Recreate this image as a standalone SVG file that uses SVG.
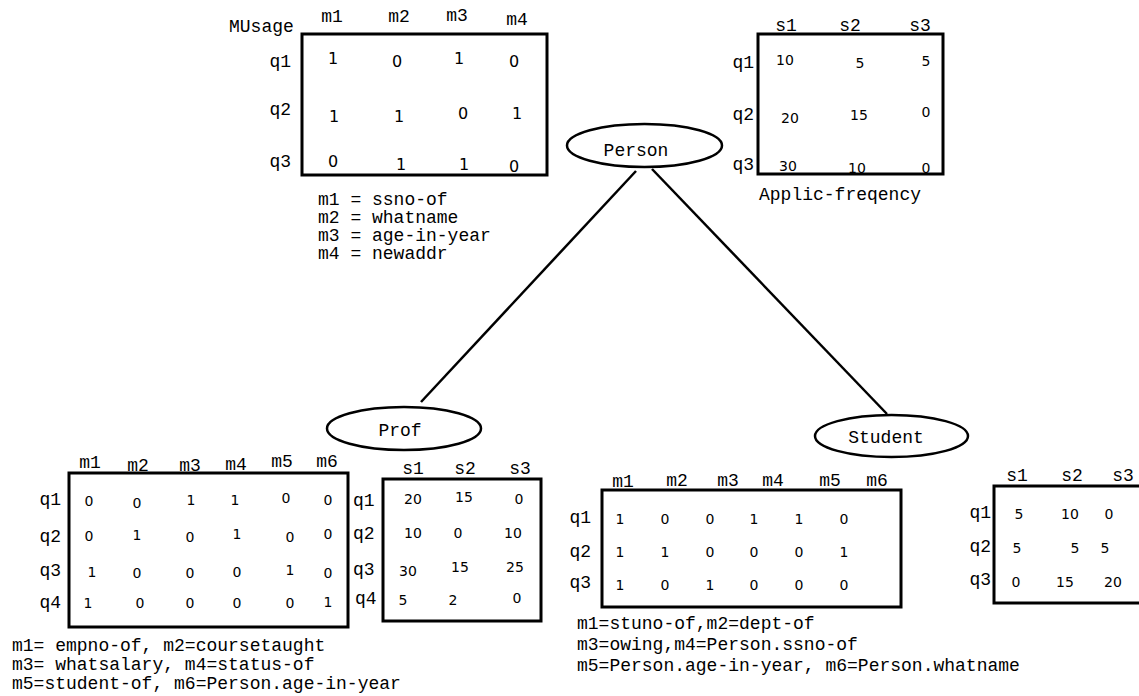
<svg xmlns="http://www.w3.org/2000/svg" width="1139" height="696" viewBox="0 0 1139 696">
<style>
.lbl{font-family:"Liberation Mono","Courier New",monospace;font-size:18px;fill:#000}
.m{text-anchor:middle}
.e{text-anchor:end}
.d{font-family:"DejaVu Sans",Verdana,sans-serif;font-size:14px;fill:#000;text-anchor:middle}
.dl{font-size:16px}
.box{fill:none;stroke:#000;stroke-width:3}
.node{fill:#fff;stroke:#000;stroke-width:2.5}
.edge{stroke:#000;stroke-width:2.5;fill:none}
</style>
<rect width="1139" height="696" fill="#fff"/>
<g id="connectors">
<line class="edge" x1="636" y1="171" x2="421" y2="402"/>
<line class="edge" x1="652" y1="169" x2="887" y2="414"/>
</g>
<g id="person">
<ellipse class="node" cx="644.5" cy="145.5" rx="77.5" ry="21.5"/>
<text class="lbl m" x="636" y="156">Person</text>
</g>
<g id="prof">
<ellipse class="node" cx="404" cy="428.5" rx="77" ry="21.5"/>
<text class="lbl m" x="400" y="436">Prof</text>
</g>
<g id="student">
<ellipse class="node" cx="891.5" cy="436" rx="76.5" ry="21"/>
<text class="lbl m" x="886" y="443">Student</text>
</g>
<g id="musage">
<rect class="box" x="302" y="34" width="245" height="141"/>
<text class="lbl" x="229" y="32">MUsage</text>
<text class="lbl m" x="332" y="22">m1</text>
<text class="lbl m" x="399" y="22">m2</text>
<text class="lbl m" x="457" y="21">m3</text>
<text class="lbl m" x="517" y="25">m4</text>
<text class="lbl e" x="291" y="67">q1</text>
<text class="lbl e" x="291" y="115">q2</text>
<text class="lbl e" x="291" y="167">q3</text>
<text class="d dl" x="333" y="64">1</text>
<text class="d dl" x="397" y="67">0</text>
<text class="d dl" x="459" y="64">1</text>
<text class="d dl" x="514" y="67">0</text>
<text class="d dl" x="334" y="122">1</text>
<text class="d dl" x="399" y="122">1</text>
<text class="d dl" x="463" y="119">0</text>
<text class="d dl" x="517" y="119">1</text>
<text class="d dl" x="333" y="167">0</text>
<text class="d dl" x="401" y="170">1</text>
<text class="d dl" x="464" y="170">1</text>
<text class="d dl" x="514" y="172">0</text>
<text class="lbl" x="318" y="205">m1 = ssno-of</text>
<text class="lbl" x="318" y="223">m2 = whatname</text>
<text class="lbl" x="318" y="241">m3 = age-in-year</text>
<text class="lbl" x="318" y="259">m4 = newaddr</text>
</g>
<g id="applic-freq">
<rect class="box" x="758" y="34" width="185" height="140"/>
<text class="lbl m" x="786" y="31">s1</text>
<text class="lbl m" x="850" y="31">s2</text>
<text class="lbl m" x="920" y="31">s3</text>
<text class="lbl e" x="754" y="68">q1</text>
<text class="lbl e" x="754" y="120">q2</text>
<text class="lbl e" x="754" y="170">q3</text>
<text class="d" x="785" y="65">10</text>
<text class="d" x="860" y="68">5</text>
<text class="d" x="926" y="66">5</text>
<text class="d" x="790" y="123">20</text>
<text class="d" x="859" y="120">15</text>
<text class="d" x="926" y="117">0</text>
<text class="d" x="788" y="171">30</text>
<text class="d" x="857" y="173">10</text>
<text class="d" x="926" y="173">0</text>
<text class="lbl" x="759" y="200">Applic-freqency</text>
</g>
<g id="prof-usage">
<rect class="box" x="69" y="473" width="279" height="154"/>
<text class="lbl m" x="90" y="468">m1</text>
<text class="lbl m" x="138" y="471">m2</text>
<text class="lbl m" x="190" y="471">m3</text>
<text class="lbl m" x="236" y="470">m4</text>
<text class="lbl m" x="282" y="467">m5</text>
<text class="lbl m" x="327" y="467">m6</text>
<text class="lbl e" x="61" y="505">q1</text>
<text class="lbl e" x="61" y="542">q2</text>
<text class="lbl e" x="61" y="576">q3</text>
<text class="lbl e" x="61" y="608">q4</text>
<text class="d" x="89" y="506">0</text>
<text class="d" x="137" y="508">0</text>
<text class="d" x="191" y="505">1</text>
<text class="d" x="235" y="505">1</text>
<text class="d" x="286" y="503">0</text>
<text class="d" x="328" y="505">0</text>
<text class="d" x="89" y="541">0</text>
<text class="d" x="137" y="540">1</text>
<text class="d" x="190" y="542">0</text>
<text class="d" x="237" y="539">1</text>
<text class="d" x="290" y="542">0</text>
<text class="d" x="328" y="539">0</text>
<text class="d" x="92" y="577">1</text>
<text class="d" x="137" y="578">0</text>
<text class="d" x="190" y="578">0</text>
<text class="d" x="237" y="577">0</text>
<text class="d" x="290" y="575">1</text>
<text class="d" x="328" y="578">0</text>
<text class="d" x="88" y="608">1</text>
<text class="d" x="140" y="608">0</text>
<text class="d" x="190" y="608">0</text>
<text class="d" x="237" y="608">0</text>
<text class="d" x="290" y="608">0</text>
<text class="d" x="328" y="607">1</text>
<text class="lbl" x="12" y="651">m1= empno-of, m2=coursetaught</text>
<text class="lbl" x="12" y="670">m3= whatsalary, m4=status-of</text>
<text class="lbl" x="12" y="689">m5=student-of, m6=Person.age-in-year</text>
</g>
<g id="prof-freq">
<rect class="box" x="383" y="479" width="158" height="142"/>
<text class="lbl m" x="413" y="474">s1</text>
<text class="lbl m" x="465" y="474">s2</text>
<text class="lbl m" x="520" y="474">s3</text>
<text class="lbl" x="353" y="506">q1</text>
<text class="lbl" x="353" y="539">q2</text>
<text class="lbl" x="353" y="575">q3</text>
<text class="lbl" x="355" y="604">q4</text>
<text class="d" x="413" y="504">20</text>
<text class="d" x="464" y="502">15</text>
<text class="d" x="519" y="504">0</text>
<text class="d" x="413" y="538">10</text>
<text class="d" x="458" y="538">0</text>
<text class="d" x="513" y="538">10</text>
<text class="d" x="408" y="576">30</text>
<text class="d" x="460" y="572">15</text>
<text class="d" x="515" y="572">25</text>
<text class="d" x="403" y="605">5</text>
<text class="d" x="453" y="605">2</text>
<text class="d" x="517" y="603">0</text>
</g>
<g id="student-usage">
<rect class="box" x="602" y="490" width="299" height="117"/>
<text class="lbl m" x="623" y="487">m1</text>
<text class="lbl m" x="677" y="486">m2</text>
<text class="lbl m" x="728" y="486">m3</text>
<text class="lbl m" x="773" y="486">m4</text>
<text class="lbl m" x="830" y="486">m5</text>
<text class="lbl m" x="877" y="486">m6</text>
<text class="lbl e" x="591" y="523">q1</text>
<text class="lbl e" x="591" y="557">q2</text>
<text class="lbl e" x="591" y="588">q3</text>
<text class="d" x="620" y="524">1</text>
<text class="d" x="665" y="524">0</text>
<text class="d" x="710" y="524">0</text>
<text class="d" x="754" y="524">1</text>
<text class="d" x="799" y="524">1</text>
<text class="d" x="844" y="524">0</text>
<text class="d" x="620" y="557">1</text>
<text class="d" x="665" y="557">1</text>
<text class="d" x="710" y="557">0</text>
<text class="d" x="754" y="557">0</text>
<text class="d" x="799" y="557">0</text>
<text class="d" x="844" y="557">1</text>
<text class="d" x="620" y="590">1</text>
<text class="d" x="665" y="590">0</text>
<text class="d" x="710" y="590">1</text>
<text class="d" x="754" y="590">0</text>
<text class="d" x="799" y="590">0</text>
<text class="d" x="844" y="590">0</text>
<text class="lbl" x="577" y="629">m1=stuno-of,m2=dept-of</text>
<text class="lbl" x="577" y="650">m3=owing,m4=Person.ssno-of</text>
<text class="lbl" x="577" y="671">m5=Person.age-in-year, m6=Person.whatname</text>
</g>
<g id="student-freq">
<rect class="box" x="994" y="486" width="160" height="117"/>
<text class="lbl m" x="1017" y="481">s1</text>
<text class="lbl m" x="1072" y="481">s2</text>
<text class="lbl m" x="1123" y="481">s3</text>
<text class="lbl e" x="991" y="518">q1</text>
<text class="lbl e" x="991" y="552">q2</text>
<text class="lbl e" x="991" y="585">q3</text>
<text class="d" x="1019" y="519">5</text>
<text class="d" x="1070" y="519">10</text>
<text class="d" x="1109" y="519">0</text>
<text class="d" x="1017" y="553">5</text>
<text class="d" x="1075" y="553">5</text>
<text class="d" x="1105" y="553">5</text>
<text class="d" x="1016" y="587">0</text>
<text class="d" x="1065" y="587">15</text>
<text class="d" x="1113" y="587">20</text>
</g>
</svg>
